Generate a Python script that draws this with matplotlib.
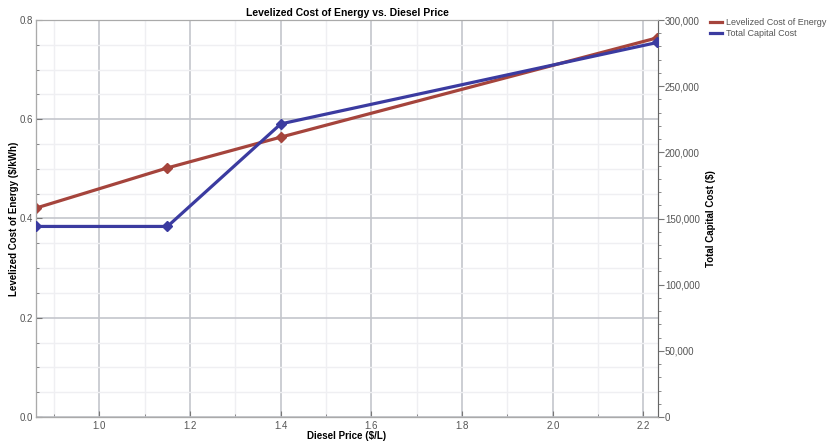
import matplotlib.pyplot as plt
from matplotlib.lines import Line2D
from matplotlib.ticker import MultipleLocator, FuncFormatter

plt.rcParams['font.family'] = ['Liberation Sans', 'DejaVu Sans']

# data
diesel_price = [0.86, 1.15, 1.40, 2.23]
lcoe = [0.421, 0.502, 0.564, 0.764]
capital_cost = [144000, 144000, 221500, 283000]
series_names = ['Levelized Cost of Energy', 'Total Capital Cost']

red = '#a5443c'
blue = '#3b3ba0'
grey_txt = '#555555'

fig = plt.figure(figsize=(8.31, 4.41), dpi=100)
ax = fig.add_axes([36/831, 1 - 417/441, (658-36)/831, (417-20)/441])
ax2 = ax.twinx()

ax.set_xlim(0.86, 2.232)
ax.set_ylim(0, 0.8)
ax2.set_ylim(0, 300000)

ax.xaxis.set_major_locator(MultipleLocator(0.2))
ax.xaxis.set_minor_locator(MultipleLocator(0.1))
ax.yaxis.set_major_locator(MultipleLocator(0.2))
ax.yaxis.set_minor_locator(MultipleLocator(0.05))
ax2.yaxis.set_major_locator(MultipleLocator(50000))
ax2.yaxis.set_minor_locator(MultipleLocator(10000))
ax2.yaxis.set_major_formatter(FuncFormatter(lambda v, p: '{:,.0f}'.format(v)))
ax.xaxis.set_major_formatter(FuncFormatter(lambda v, p: '{:.1f}'.format(v)))
ax.yaxis.set_major_formatter(FuncFormatter(lambda v, p: '{:.1f}'.format(v)))

ax.grid(which='major', color='#c4c6cc', linewidth=1.2)
ax.grid(which='minor', color='#efeff2', linewidth=1.0)
ax.set_axisbelow(True)

ax.plot(diesel_price, lcoe, color=red, lw=2.3, marker='D', ms=5, zorder=3)
ax2.plot(diesel_price, capital_cost, color=blue, lw=2.3, marker='D', ms=5, zorder=3)

for a in (ax, ax2):
    a.tick_params(which='both', labelsize=7, colors='#777777', labelcolor=grey_txt)
    a.tick_params(which='major', length=4, width=0.8)
    a.tick_params(which='minor', length=2.5, width=0.6)
    for s in a.spines.values():
        s.set_color('#aaaaaa')
ax.spines['left'].set_color('#666666')
ax.spines['bottom'].set_color('#666666')
ax2.spines['right'].set_color('#666666')
ax.tick_params(axis='y', which='both', direction='in', pad=2)
ax.tick_params(axis='x', which='both', direction='in', pad=3)
ax2.tick_params(axis='y', which='both', direction='out', pad=1)

ax.set_title('Levelized Cost of Energy vs. Diesel Price', fontsize=7.5,
             fontweight='bold', pad=3)
ax.set_xlabel('Diesel Price ($/L)', fontsize=7, fontweight='bold', labelpad=0)
ax.set_ylabel('Levelized Cost of Energy ($/kWh)', fontsize=7, fontweight='bold')
ax2.set_ylabel('Total Capital Cost ($)', fontsize=7, fontweight='bold')
ax.yaxis.set_label_coords(-0.027, 0.5)
ax2.yaxis.set_label_coords(1.077, 0.5)

handles = [Line2D([], [], color=red, lw=2.3), Line2D([], [], color=blue, lw=2.3)]
fig.legend(handles=handles, labels=series_names, loc='upper left',
           bbox_to_anchor=(708/831, 1 - 16/441), frameon=False, fontsize=6.5,
           handlelength=1.3, handletextpad=0.5, labelspacing=0.25,
           borderaxespad=0, borderpad=0.2, labelcolor=grey_txt)

fig.savefig('out.png', dpi=100)
